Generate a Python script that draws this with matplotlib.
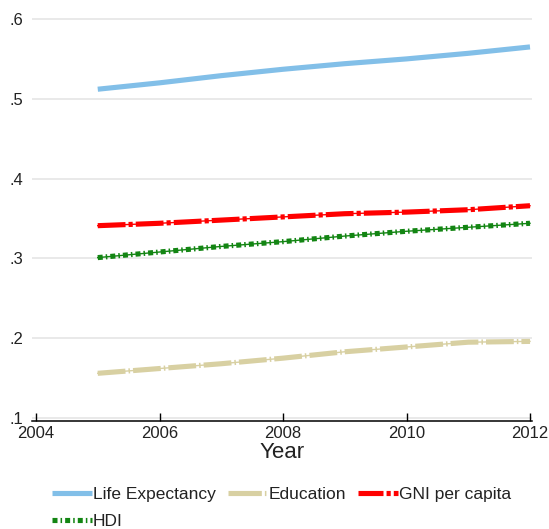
import matplotlib
matplotlib.use("Agg")
import matplotlib.pyplot as plt
from matplotlib.lines import Line2D

plt.rcParams['font.family'] = ['Liberation Sans', 'DejaVu Sans']
plt.rcParams['lines.scale_dashes'] = False

years = [2005, 2006, 2007, 2008, 2009, 2010, 2011, 2012]
life_expectancy = [0.512, 0.520, 0.529, 0.537, 0.544, 0.550, 0.557, 0.565]
education = [0.156, 0.162, 0.168, 0.175, 0.183, 0.189, 0.195, 0.196]
gni_per_capita = [0.341, 0.344, 0.348, 0.352, 0.356, 0.358, 0.361, 0.366]
hdi = [0.301, 0.308, 0.315, 0.321, 0.328, 0.334, 0.339, 0.344]

x_ticks = [2004, 2006, 2008, 2010, 2012]
y_ticks = [0.1, 0.2, 0.3, 0.4, 0.5, 0.6]
y_labels = ['.1', '.2', '.3', '.4', '.5', '.6']

c_le = '#82bfe8'
c_ed = '#d8d0a2'
c_gni = '#ff0000'
c_hdi = '#138513'

W, H = 549, 529
fig = plt.figure(figsize=(W / 100, H / 100), dpi=100)
left_px, right_px = 32, 532
axis_px = 420.7
ax = fig.add_axes([left_px / W, (H - axis_px) / H, (right_px - left_px) / W, axis_px / H])

px_per_year = (530 - 36) / 8.0
ax.set_xlim(2004 - 4 / px_per_year, 2012 + 2 / px_per_year)
px_per_unit = 798.0
ymin = 0.1 - 2.7 / px_per_unit
ax.set_ylim(ymin, ymin + axis_px / px_per_unit)

for y in y_ticks:
    ax.axhline(y, color='#e3e3e3', lw=1.1, zorder=0)

thick = 3.7
thin = 1.0
d_ed = (20, 2.2, 1.1, 2.2)
d_gni = (20, 2.2, 3, 2.2)
d_hdi = (3.6, 2.2, 1.1, 2.2)

# Life expectancy: solid thick
ax.plot(years, life_expectancy, color=c_le, lw=thick, solid_capstyle='butt', zorder=3)

# Education: thin base + thick long dash/dot pattern
ax.plot(years, education, color=c_ed, lw=thin, zorder=3)
ax.plot(years, education, color=c_ed, lw=thick, dashes=d_ed, dash_capstyle='butt', zorder=3)

# GNI per capita
ax.plot(years, gni_per_capita, color=c_gni, lw=thin, zorder=3)
ax.plot(years, gni_per_capita, color=c_gni, lw=thick, dashes=d_gni, dash_capstyle='butt', zorder=3)

# HDI
ax.plot(years, hdi, color=c_hdi, lw=thin, zorder=3)
ax.plot(years, hdi, color=c_hdi, lw=thick, dashes=d_hdi, dash_capstyle='butt', zorder=3)

for s in ['left', 'top', 'right']:
    ax.spines[s].set_visible(False)
ax.spines['bottom'].set_color('black')
ax.spines['bottom'].set_linewidth(1.1)

ax.set_xticks(x_ticks)
ax.set_xticklabels([str(t) for t in x_ticks])
ax.tick_params(axis='x', direction='in', length=6, width=1.0, color='black',
               labelsize=12, pad=3.5, labelcolor='#222222')
ax.set_yticks(y_ticks)
ax.set_yticklabels(y_labels)
ax.tick_params(axis='y', length=0, labelsize=12, pad=6, labelcolor='#222222')
ax.set_xlabel('Year', fontsize=16, labelpad=1, color='#222222')

h_le = Line2D([], [], color=c_le, lw=thick, solid_capstyle='butt')
h_ed = Line2D([], [], color=c_ed, lw=thick, dashes=(24, 2.2, 1.1, 2.2), dash_capstyle='butt')
h_gni = Line2D([], [], color=c_gni, lw=thick, dashes=(18, 2.2, 3, 2.2), dash_capstyle='butt')
h_hdi = Line2D([], [], color=c_hdi, lw=thick, dashes=d_hdi, dash_capstyle='butt')

leg = fig.legend([h_le, h_hdi, h_ed, h_gni],
                 ['Life Expectancy', 'HDI', 'Education', 'GNI per capita'],
                 ncol=3, frameon=False, fontsize=12.5,
                 loc='upper left', bbox_to_anchor=(52 / W, 1 - 487 / H),
                 handlelength=2.3, handletextpad=0.05, columnspacing=0.7,
                 labelspacing=0.65, borderaxespad=0, borderpad=0)
for t in leg.get_texts():
    t.set_color('#222222')

fig.savefig('out.png', dpi=100)
